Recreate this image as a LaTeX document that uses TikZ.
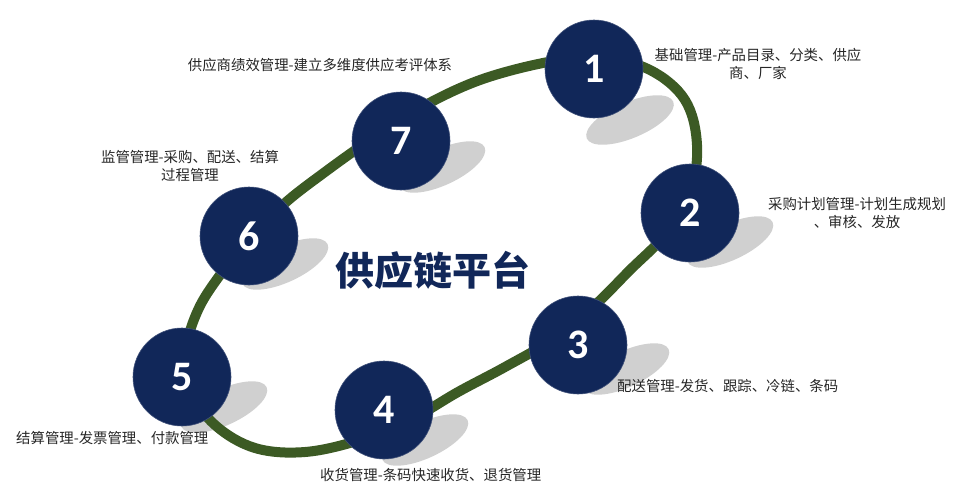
\documentclass[tikz,border=0pt]{standalone}
\usepackage{fontspec}
\newfontfamily\cjkfont{Noto Sans CJK SC}
\newfontfamily\numfont{Carlito}
\usetikzlibrary{shapes.geometric}
\definecolor{navy}{HTML}{112759}
\definecolor{ringgreen}{HTML}{3C5A24}
\definecolor{shadegray}{HTML}{D0D0D0}
\definecolor{labelgray}{HTML}{262626}
\tikzset{
	stage/.style={circle, fill=navy, draw=navy!80!white, line width=0.6pt,
			minimum size=98pt, inner sep=0pt, text=white,
			font=\numfont\bfseries\fontsize{42}{42}\selectfont},
	dropshade/.style={ellipse, fill=shadegray, draw=none, inner sep=0pt,
			minimum width=94pt, minimum height=36pt, rotate=25},
	ring/.style={draw=ringgreen, line width=10pt},
	desc/.style={font=\cjkfont\fontsize{14.4}{17.5}\selectfont, text=labelgray,
			align=center, inner sep=0pt},
	hubtitle/.style={font=\cjkfont\bfseries\fontsize{39}{39}\selectfont, text=navy, inner sep=0pt}
}

\begin{document}
\begin{tikzpicture}[x=1pt, y=-1pt]
	\useasboundingbox (0,0) rectangle (965,498);

	% Shadows below the stages
	\node[dropshade, rotate=-2] (s1) at (630,120) {};
	\node[dropshade] (s2) at (730,242) {};
	\node[dropshade] (s3) at (626,369) {};
	\node[dropshade] (s4) at (425,440) {};
	\node[dropshade] (s5) at (224,407) {};
	\node[dropshade] (s6) at (285,264) {};
	\node[dropshade] (s7) at (442,167) {};

	% Green loop
	\draw[ring] plot[smooth cycle, tension=0.6] coordinates {
			(548,62) (600,57) (650,70) (685,100) (697,145) (690,195) (665,235)
			(630,270) (595,305) (555,338) (505,367) (458,392) (410,420) (360,440)
			(305,452) (255,448) (215,425) (190,390) (186,350) (198,310) (220,275)
			(250,238) (285,203) (325,172) (370,140) (420,108) (480,80)};

	% Stages
	\node[stage] (n1) at (594,69) {1};
	\node[stage] (n2) at (690,213) {2};
	\node[stage] (n3) at (578,345) {3};
	\node[stage] (n4) at (384,410) {4};
	\node[stage] (n5) at (182,377) {5};
	\node[stage] (n6) at (249,236) {6};
	\node[stage] (n7) at (401,141) {7};

	% Title
	\node[hubtitle] (hub) at (433,270) {供应链平台};

	% Labels
	\node[desc] (l1) at (758,64) {基础管理-产品目录、分类、供应\\商、厂家};
	\node[desc] (l2) at (857,213) {采购计划管理-计划生成规划\\、审核、发放};
	\node[desc, anchor=west] (l3) at (617,386) {配送管理-发货、跟踪、冷链、条码};
	\node[desc, anchor=west] (l4) at (320,475) {收货管理-条码快速收货、退货管理};
	\node[desc, anchor=west] (l5) at (16,438) {结算管理-发票管理、付款管理};
	\node[desc] (l6) at (190,166) {监管管理-采购、配送、结算\\过程管理};
	\node[desc] (l7) at (320,65) {供应商绩效管理-建立多维度供应考评体系};
\end{tikzpicture}
\end{document}
